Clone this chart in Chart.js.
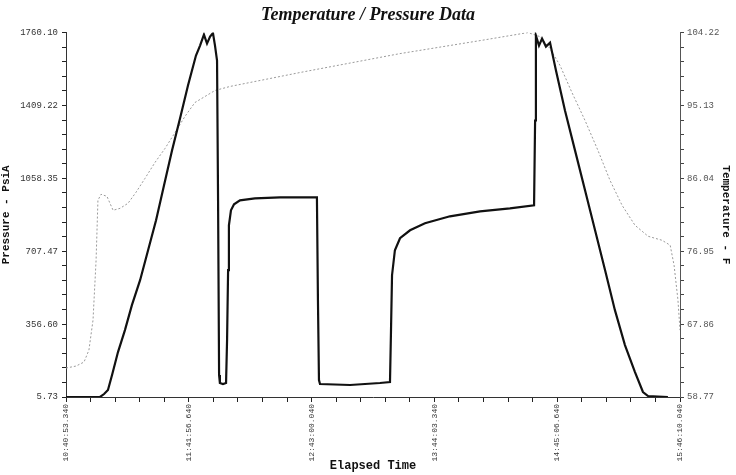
<!DOCTYPE html>
<html>
<head>
<meta charset="utf-8">
<script src="https://cdn.jsdelivr.net/npm/chart.js@4/dist/chart.umd.min.js"></script>
<style>
  html, body { margin: 0; padding: 0; background: #fff; }
  #wrap { width: 736px; height: 475px; }
</style>
</head>
<body>
<div id="wrap"><canvas id="c" width="736" height="475"></canvas></div>
<script>
// ---- Data (elapsed minutes) ----
const timeTickLabels = ['10:40:53.340', '11:41:56.640', '12:43:00.040', '13:44:03.340', '14:45:06.640', '15:46:10.040'];
const pressureTickLabels = ['5.73', '356.60', '707.47', '1058.35', '1409.22', '1760.10'];
const tempTickLabels = ['58.77', '67.86', '76.95', '86.04', '95.13', '104.22'];

const pressureTime = [0, 16.6, 18.6, 20.5, 22.5, 25.4, 28.8, 32.2, 36.2, 40.1, 44.0, 47.9, 51.8, 55.7, 59.6, 63.5, 65.5, 67.4, 68.9, 70.4, 71.8, 72.8, 73.8, 74.3, 74.8, 75.2, 76.7, 78.2, 78.7, 79.2, 79.6, 80.6, 82.1, 85.0, 92.3, 104.6, 114.3, 122.6, 123.1, 123.6, 124.1, 138.8, 153.4, 158.3, 158.8, 159.3, 160.7, 163.2, 168.1, 175.4, 187.6, 202.3, 216.9, 228.7, 229.2, 229.6, 231.1, 232.6, 234.5, 236.5, 239.4, 243.8, 248.7, 253.6, 258.5, 263.4, 268.2, 273.1, 278.0, 281.9, 284.4, 294.1];
const pressureValues = [5.73, 5.73, 20.1, 39.4, 111.5, 222.0, 327.8, 447.9, 568.1, 712.3, 856.5, 1024.7, 1193.0, 1346.8, 1505.4, 1649.6, 1697.6, 1750.5, 1707.2, 1740.9, 1758.0, 1697.6, 1625.5, 952.6, 111.5, 73.0, 68.2, 73.0, 279.7, 616.2, 832.4, 904.5, 933.4, 952.6, 962.2, 967.0, 967.0, 967.0, 472.0, 87.4, 68.2, 63.4, 73.0, 77.8, 327.8, 592.1, 712.3, 770.0, 808.4, 842.1, 875.7, 899.7, 914.2, 928.6, 1337.0, 1745.7, 1697.6, 1731.3, 1692.8, 1712.0, 1577.5, 1385.2, 1193.0, 1000.7, 808.4, 616.2, 423.9, 255.7, 125.9, 29.8, 10.5, 5.73];

const tempTime = [0, 4.9, 8.8, 11.2, 13.2, 14.7, 15.6, 17.1, 20.0, 23.0, 26.4, 30.3, 34.2, 38.6, 43.5, 48.4, 53.3, 58.1, 63.0, 67.9, 72.8, 80.1, 114.3, 163.2, 202.3, 225.7, 231.6, 236.5, 241.4, 247.2, 253.6, 259.9, 265.8, 271.7, 278.0, 284.4, 291.2, 295.2, 297.1, 299.0, 300];
const tempValues = [62.38, 62.63, 63.13, 64.62, 68.36, 75.83, 83.30, 84.05, 83.80, 82.06, 82.30, 82.93, 84.30, 86.04, 88.03, 89.78, 91.77, 93.76, 95.50, 96.25, 97.00, 97.50, 99.24, 101.60, 103.22, 104.22, 103.72, 102.23, 100.11, 96.75, 93.26, 89.53, 85.79, 82.68, 80.19, 78.82, 78.32, 77.70, 75.21, 70.85, 67.11];

const timeMin = 0, timeMax = 300;

const pressurePoints = pressureTime.map((t, i) => ({ x: t, y: pressureValues[i] }));
const tempPoints = tempTime.map((t, i) => ({ x: t, y: tempValues[i] }));

function evenTicks(labels, minorPer) {
  const lo = parseFloat(labels[0]);
  const hi = parseFloat(labels[labels.length - 1]);
  return function (scale) {
    const n = (labels.length - 1) * minorPer;
    const arr = [];
    for (let i = 0; i <= n; i++) arr.push({ value: lo + (hi - lo) * i / n });
    scale.ticks = arr;
  };
}
function labelCb(labels, minorPer) {
  return function (value, index) {
    return index % minorPer === 0 ? labels[index / minorPer] : '';
  };
}

const mono = "'Liberation Mono', 'DejaVu Sans Mono', monospace";

new Chart(document.getElementById('c'), {
  type: 'line',
  data: {
    datasets: [
      {
        label: 'Pressure',
        data: pressurePoints,
        yAxisID: 'yP',
        borderColor: '#111',
        borderWidth: 2.2,
        pointRadius: 0,
        tension: 0,
        order: 1
      },
      {
        label: 'Temperature',
        data: tempPoints,
        yAxisID: 'yT',
        borderColor: '#9a9a9a',
        borderWidth: 1,
        borderDash: [2, 2],
        pointRadius: 0,
        tension: 0,
        order: 2
      }
    ]
  },
  options: {
    responsive: false,
    animation: false,
    layout: { padding: { top: 0, right: 0, bottom: 0, left: 0 } },
    plugins: {
      legend: { display: false },
      tooltip: { enabled: false },
      title: {
        display: true,
        text: 'Temperature / Pressure Data',
        color: '#111',
        font: { family: "'Liberation Serif', 'DejaVu Serif', serif", size: 18, style: 'italic', weight: 'bold' },
        padding: { top: 5, bottom: 6 }
      }
    },
    scales: {
      x: {
        type: 'linear',
        min: timeMin,
        max: timeMax,
        afterBuildTicks: evenTicks([String(timeMin), String(timeMax)], 25),
        afterFit: function (s) { s.height = 78; },
        border: { display: true, color: '#333', dash: [2, 2], width: 1 },
        grid: { drawOnChartArea: false, color: '#222', tickLength: 5 },
        ticks: {
          autoSkip: false,
          minRotation: 90,
          maxRotation: 90,
          padding: 2,
          color: '#333',
          font: { family: mono, size: 8 },
          callback: function (v, i) { return i % 5 === 0 ? timeTickLabels[i / 5] : ''; }
        },
        title: {
          display: true,
          text: 'Elapsed Time',
          color: '#111',
          font: { family: mono, size: 12, weight: 'bold' },
          padding: { top: 0, bottom: 2 }
        }
      },
      yP: {
        type: 'linear',
        position: 'left',
        min: parseFloat(pressureTickLabels[0]),
        max: parseFloat(pressureTickLabels[pressureTickLabels.length - 1]),
        afterBuildTicks: evenTicks(pressureTickLabels, 5),
        afterFit: function (s) { s.width = 66; },
        border: { display: true, color: '#333', dash: [2, 2], width: 1 },
        grid: { drawOnChartArea: false, color: '#222', tickLength: 4 },
        ticks: {
          autoSkip: false,
          padding: 4,
          color: '#333',
          font: { family: mono, size: 9 },
          callback: labelCb(pressureTickLabels, 5)
        },
        title: {
          display: true,
          text: 'Pressure - PsiA',
          color: '#111',
          font: { family: mono, size: 11, weight: 'bold' },
          padding: { top: 0, bottom: 4 }
        }
      },
      yT: {
        type: 'linear',
        position: 'right',
        min: parseFloat(tempTickLabels[0]),
        max: parseFloat(tempTickLabels[tempTickLabels.length - 1]),
        afterBuildTicks: evenTicks(tempTickLabels, 5),
        afterFit: function (s) { s.width = 56; },
        border: { display: true, color: '#555', dash: [2, 2], width: 1 },
        grid: { drawOnChartArea: false, color: '#444', tickLength: 4 },
        ticks: {
          autoSkip: false,
          padding: 3,
          color: '#555',
          font: { family: mono, size: 9 },
          callback: labelCb(tempTickLabels, 5)
        },
        title: {
          display: true,
          text: 'Temperature - F',
          color: '#111',
          font: { family: mono, size: 11, weight: 'bold' },
          padding: { top: 4, bottom: 0 }
        }
      }
    }
  }
});
</script>
</body>
</html>
